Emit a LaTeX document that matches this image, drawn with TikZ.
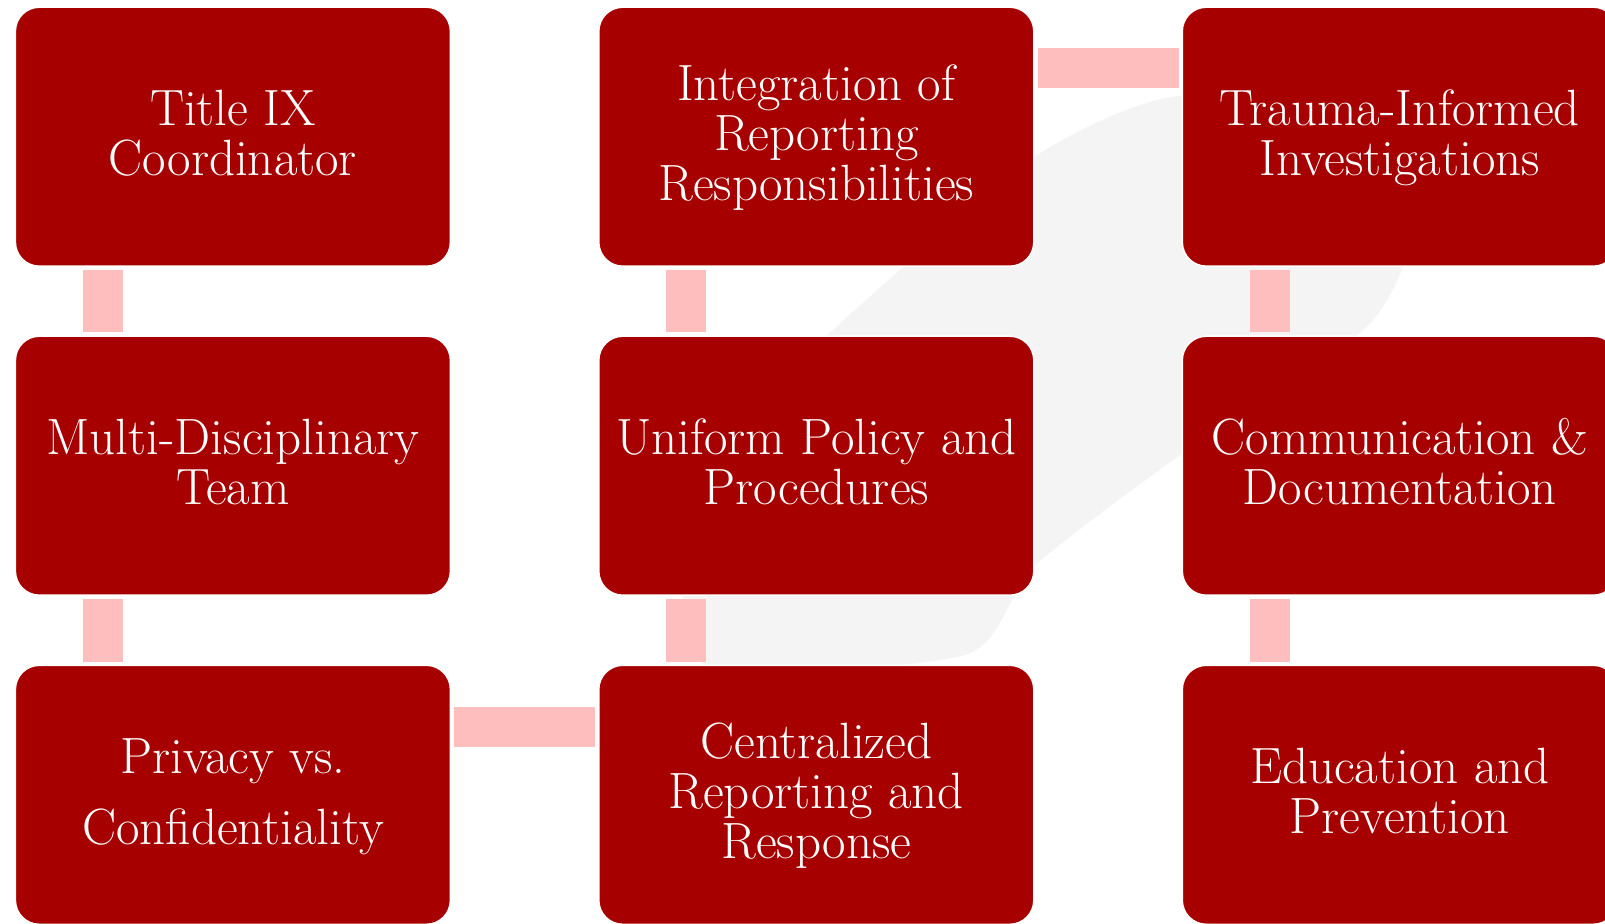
\documentclass[tikz,border=0pt]{standalone}
\usepackage{fontspec}
\definecolor{boxred}{HTML}{A60000}
\definecolor{barpink}{HTML}{FFBEBE}
\definecolor{swoosh}{HTML}{F4F4F4}
\newcommand{\myTop}{\rule{0pt}{43pt}}
\newcommand{\myBot}{\rule[-15pt]{0pt}{15pt}}
\begin{document}
\begin{tikzpicture}[x=1pt,y=-1pt,
  box/.style={draw=white, line width=1.5pt, fill=boxred, rounded corners=24pt,
    minimum width=435pt, minimum height=259pt, inner sep=0pt, text=white,
    align=center, font=\fontsize{51}{50}\selectfont},
  bar/.style={draw=barpink, line width=40pt, shorten <=3pt, shorten >=3pt}]
\useasboundingbox (0,0) rectangle (1605,923);
\fill[white] (0,0) rectangle (1605,923);
\fill[swoosh] plot[smooth cycle, tension=0.4] coordinates {(700,662) (965,655) (1033,567) (1180,455) (1363,330) (1410,250) (1450,120) (1180,96) (1037,155) (900,270) (833,330) (700,450)};
% boxes
\node[box] (a1) at (232.9,136.7) {\myTop Title IX\\Coordinator\myBot};
\node[box] (a2) at (232.9,465.7) {\myTop Multi-Disciplinary\\Team\myBot};
\node[box] (a3) at (232.9,794.8) {\myTop Privacy vs.\\[21pt]Confidentiality\myBot};
\node[box] (b1) at (816.3,136.7) {\myTop Integration of\\Reporting\\Responsibilities\myBot};
\node[box] (b2) at (816.3,465.7) {\myTop Uniform Policy and\\Procedures\myBot};
\node[box] (b3) at (816.3,794.8) {\myTop Centralized\\Reporting and\\Response\myBot};
\node[box] (c1) at (1399.8,136.7) {\myTop Trauma-Informed\\Investigations\myBot};
\node[box] (c2) at (1399.8,465.7) {\myTop Communication \&\\Documentation\myBot};
\node[box] (c3) at (1399.8,794.8) {\myTop Education and\\Prevention\myBot};
% connectors
\draw[bar] ([xshift=88pt]a1.south west) -- ([xshift=88pt]a2.north west);
\draw[bar] ([xshift=88pt]a2.south west) -- ([xshift=88pt]a3.north west);
\draw[bar] ([yshift=-62pt]a3.north east) -- ([yshift=-62pt]b3.north west);
\draw[bar] ([xshift=88pt]b3.north west) -- ([xshift=88pt]b2.south west);
\draw[bar] ([xshift=88pt]b2.north west) -- ([xshift=88pt]b1.south west);
\draw[bar] ([yshift=-62pt]b1.north east) -- ([yshift=-62pt]c1.north west);
\draw[bar] ([xshift=88pt]c1.south west) -- ([xshift=88pt]c2.north west);
\draw[bar] ([xshift=88pt]c2.south west) -- ([xshift=88pt]c3.north west);
\end{tikzpicture}
\end{document}
